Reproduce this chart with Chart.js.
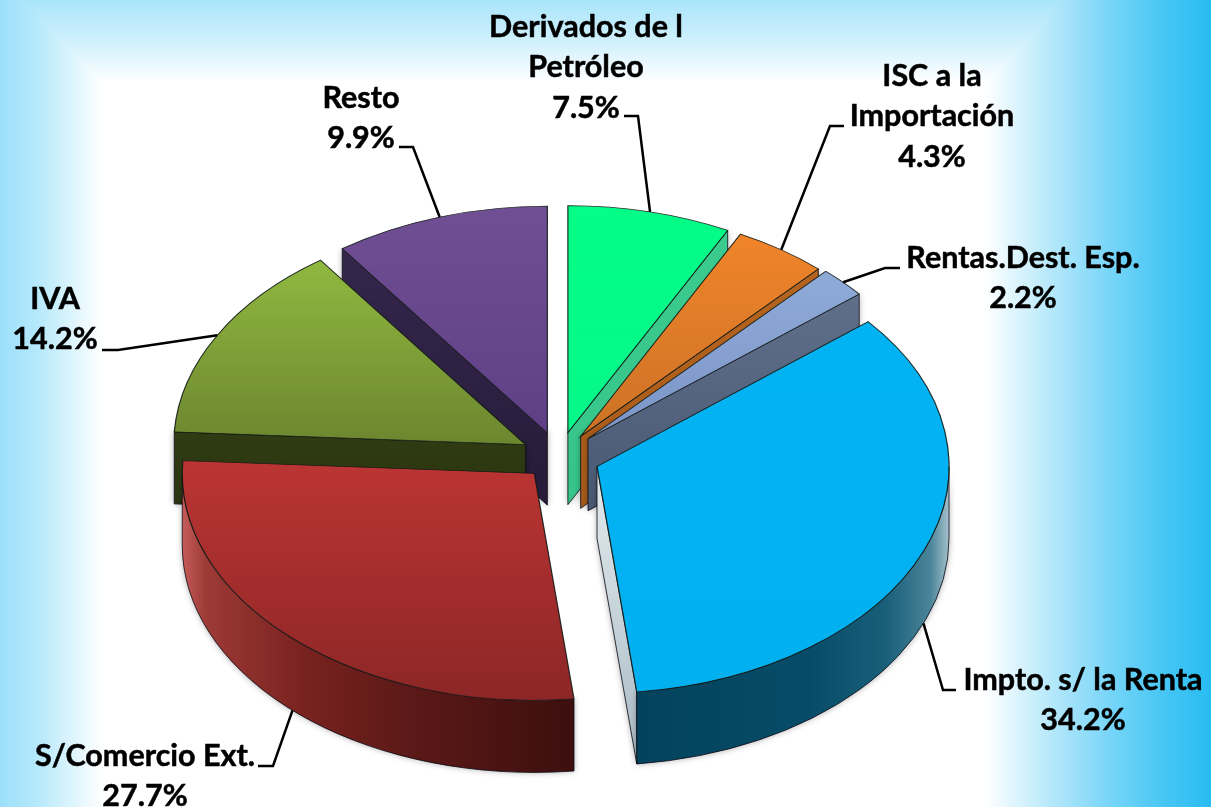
<!DOCTYPE html>
<html lang="es">
<head>
<meta charset="utf-8">
<title>Ingresos</title>
<style>
html,body{margin:0;padding:0;background:#fff}
canvas{display:block}
</style>
<script src="https://cdn.jsdelivr.net/npm/chart.js@4"></script>
</head>
<body>
<canvas id="c" width="1211" height="807"></canvas>
<script>
// ---- data ----
const categories = ['Derivados de l Petróleo','ISC a la Importación','Rentas.Dest. Esp.','Impto. s/ la Renta','S/Comercio Ext.','IVA','Resto'];
const values = [7.5, 4.3, 2.2, 34.2, 27.7, 14.2, 9.9];
const labelLines = [['Derivados de l','Petróleo'],['ISC a la','Importación'],['Rentas.Dest. Esp.'],['Impto. s/ la Renta'],['S/Comercio Ext.'],['IVA'],['Resto']];

// ---- styles ----
const topColors = [['#03fd86','#05f88a'],['#f0842a','#cc7226'],['#8fabd8','#7c94c8'],['#02b3f3','#02b0f0'],['#bb3533','#8c2626'],['#90b840','#6c862f'],['#704f94','#5f3f86']];
const cutColors = [['#3ccb8e','#36c48a'],['#b4641e','#a85a1a'],['#5f6f8a','#4a5872'],['#e4ecef','#a9bbc5'],['#5a1515','#3c0f0e'],['#2f3b12','#2b3510'],['#35264c','#261b38']];
const wallStops = [
  [[0,'#36c48a'],[1,'#36c48a']],
  [[0,'#a85a1a'],[1,'#a85a1a']],
  [[0,'#4e5c78'],[1,'#5f6f8a']],
  [[0,'#03425c'],[.55,'#064c68'],[.8,'#1a5f7a'],[.94,'#4a8499'],[1,'#a3c0cb']],
  [[0,'#c65c5a'],[.06,'#9c3a36'],[.3,'#7a2320'],[.55,'#5e1a18'],[1,'#3c0f0e']],
  [[0,'#2f3b12'],[1,'#2f3b12']],
  [[0,'#2a1e3c'],[1,'#2a1e3c']]
];
const drawOrder = [6,5,0,1,2,3,4];
const explode = [38,38,40,41,36,38,38];
const TILT = 0.645, DEPTH = 72, RADIUS = 352;
const FONT = 'bold 30.5px Lato, Carlito, "Open Sans", sans-serif';
const LINE = 40.5;
// label centre x, first line centre y, elbow point, leader start (text side)
const labelBoxes = [
  {x:586, y:27,  fromX:624, elbowX:638, elbowY:116},
  {x:932, y:76,  fromX:844, elbowX:830, elbowY:126},
  {x:1023,y:258, fromX:900, elbowX:885, elbowY:268},
  {x:1083,y:680, fromX:956, elbowX:943, elbowY:690},
  {x:145, y:756, fromX:258, elbowX:273, elbowY:766},
  {x:55,  y:299, fromX:102, elbowX:118, elbowY:350},
  {x:361, y:98,  fromX:399, elbowX:413, elbowY:147}
];

function sliceAngles(i){
  const total = values.reduce((a,b)=>a+b,0);
  let s = -Math.PI/2;
  for(let j=0;j<i;j++) s += values[j]/total*2*Math.PI;
  return [s, s + values[i]/total*2*Math.PI];
}
function topFill(c){
  const i = c.dataIndex;
  if(i===undefined || !c.chart.chartArea) return topColors[0][0];
  const [s,e] = sliceAngles(i);
  const cy = (c.chart.chartArea.top + c.chart.chartArea.bottom)/2;
  const pts = [0, RADIUS*Math.sin(s), RADIUS*Math.sin(e)];
  if(s < -Math.PI/2+1e-6 || e > 3*Math.PI/2-1e-6) pts.push(-RADIUS);
  if(s < Math.PI/2 && e > Math.PI/2) pts.push(RADIUS);
  const g = c.chart.ctx.createLinearGradient(0, cy+Math.min(...pts), 0, cy+Math.max(...pts));
  g.addColorStop(0, topColors[i][0]);
  g.addColorStop(1, topColors[i][1]);
  return g;
}

const backdrop = {
  id:'backdrop',
  beforeDraw(chart){
    const {ctx,width:w,height:h} = chart;
    ctx.save();
    ctx.fillStyle = '#fff';
    ctx.fillRect(0,0,w,h);
    ctx.globalCompositeOperation = 'darken';
    let g = ctx.createLinearGradient(0,0,102,0);
    g.addColorStop(0,'#9ce0fb'); g.addColorStop(.35,'#b4e8fb'); g.addColorStop(.75,'#e2f6fd'); g.addColorStop(1,'#ffffff');
    ctx.fillStyle = g; ctx.fillRect(0,0,w,h);
    g = ctx.createLinearGradient(985,0,w,0);
    g.addColorStop(0,'#ffffff'); g.addColorStop(.28,'#b9e9fb'); g.addColorStop(.55,'#78d5f8'); g.addColorStop(.8,'#45c6f4'); g.addColorStop(1,'#28bcf2');
    ctx.fillStyle = g; ctx.fillRect(0,0,w,h);
    g = ctx.createLinearGradient(0,0,0,82);
    g.addColorStop(0,'#a9e5fa'); g.addColorStop(.5,'#d0f0fc'); g.addColorStop(1,'#ffffff');
    ctx.fillStyle = g; ctx.fillRect(0,0,w,h);
    ctx.restore();
  }
};

const pie3d = {
  id:'pie3d',
  beforeDatasetsDraw(chart){
    const ctx = chart.ctx, arcs = chart.getDatasetMeta(0).data;
    ctx.save();
    drawOrder.forEach(i=>{
      const arc = arcs[i];
      const s = arc.startAngle, e = arc.endAngle, mid = (s+e)/2, R = arc.outerRadius;
      const ax = arc.x + explode[i]*Math.cos(mid);
      const ay = arc.y + explode[i]*TILT*Math.sin(mid);
      const rim = t => [ax+R*Math.cos(t), ay+R*TILT*Math.sin(t)];
      const cut = (t,cols)=>{
        const p = rim(t);
        const g = ctx.createLinearGradient(0,Math.min(ay,p[1]),0,Math.max(ay,p[1])+DEPTH);
        g.addColorStop(0,cols[0]); g.addColorStop(1,cols[1]);
        ctx.beginPath();
        ctx.moveTo(ax,ay); ctx.lineTo(p[0],p[1]); ctx.lineTo(p[0],p[1]+DEPTH); ctx.lineTo(ax,ay+DEPTH); ctx.closePath();
        ctx.fillStyle = g; ctx.fill();
        ctx.shadowColor='transparent';
        ctx.strokeStyle='rgba(10,10,20,.8)'; ctx.lineWidth=1; ctx.stroke();
      };
      ctx.shadowColor='rgba(0,0,0,.35)'; ctx.shadowBlur=6;
      if(Math.cos(s)<0) cut(s,cutColors[i]);
      ctx.shadowColor='rgba(0,0,0,.35)';
      if(Math.cos(e)>0) cut(e,cutColors[i]);
      const lo = Math.max(s,0), hi = Math.min(e,Math.PI);
      if(hi>lo){
        const xs = [rim(lo)[0],rim(hi)[0]];
        if(lo<=0) xs.push(ax+R);
        if(hi>=Math.PI) xs.push(ax-R);
        const g = ctx.createLinearGradient(Math.min(...xs),0,Math.max(...xs),0);
        wallStops[i].forEach(st=>g.addColorStop(st[0],st[1]));
        ctx.beginPath();
        ctx.ellipse(ax,ay,R,R*TILT,0,lo,hi);
        ctx.ellipse(ax,ay+DEPTH,R,R*TILT,0,hi,lo,true);
        ctx.closePath();
        ctx.shadowColor='rgba(0,0,0,.35)'; ctx.shadowBlur=6;
        ctx.fillStyle=g; ctx.fill();
        ctx.shadowColor='transparent';
        ctx.strokeStyle='rgba(10,10,20,.8)'; ctx.lineWidth=1; ctx.stroke();
      }
      ctx.shadowColor='transparent';
      // top face: the library's own arc, laid flat by the tilt transform
      ctx.save();
      ctx.translate(0,arc.y); ctx.scale(1,TILT); ctx.translate(0,-arc.y);
      ctx.translate(explode[i]*Math.cos(mid), explode[i]*Math.sin(mid));
      arc.draw(ctx);
      ctx.restore();
    });
    ctx.restore();
    return false;
  },
  afterDraw(chart){
    const ctx = chart.ctx, arcs = chart.getDatasetMeta(0).data;
    ctx.save();
    ctx.font = FONT; ctx.fillStyle='#000'; ctx.strokeStyle='#000'; ctx.textAlign='center'; ctx.textBaseline='middle';
    labelBoxes.forEach((b,i)=>{
      const lines = labelLines[i].concat(values[i].toFixed(1)+'%');
      ctx.lineWidth=.5;
      lines.forEach((t,n)=>{ctx.fillText(t,b.x,b.y+n*LINE);ctx.strokeText(t,b.x,b.y+n*LINE);});
      const arc = arcs[i], mid=(arc.startAngle+arc.endAngle)/2, R=arc.outerRadius;
      const tx = arc.x+(explode[i]+R)*Math.cos(mid);
      const front = i===3||i===4;
      const ty = arc.y+(explode[i]+R)*TILT*Math.sin(mid)+(front?DEPTH:0);
      ctx.beginPath();
      ctx.moveTo(b.fromX,b.elbowY); ctx.lineTo(b.elbowX,b.elbowY); ctx.lineTo(tx,ty);
      ctx.lineWidth=2.5; ctx.lineJoin='miter'; ctx.stroke();
    });
    ctx.restore();
  }
};

new Chart(document.getElementById('c'),{
  type:'pie',
  data:{labels:categories,datasets:[{data:values,backgroundColor:topFill,borderColor:'rgba(15,25,20,.9)',borderWidth:1.2,borderJoinStyle:'miter',offset:0}]},
  options:{
    responsive:false,animation:false,radius:RADIUS,rotation:0,
    layout:{padding:{left:0,right:93,top:106,bottom:0}},
    plugins:{legend:{display:false},tooltip:{enabled:false},title:{display:false}},
    events:[]
  },
  plugins:[backdrop,pie3d]
});
</script>
</body>
</html>
